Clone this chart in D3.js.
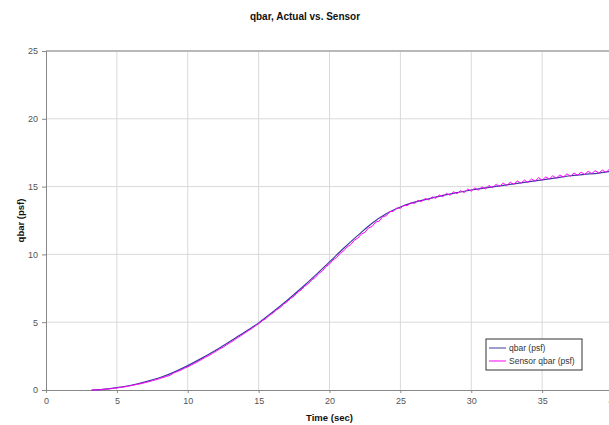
<!DOCTYPE html>
<html>
<head>
<meta charset="utf-8">
<script src="https://cdn.jsdelivr.net/npm/d3@7"></script>
<style>
  body { margin: 0; background: #fff; }
  text { font-family: "Liberation Sans", Arial, sans-serif; }
  .tick text { font-size: 9px; fill: #555; }
  .label { font-size: 9.5px; font-weight: bold; fill: #111; }
</style>
</head>
<body>
<div id="chart"></div>
<script>
// actual qbar, 1 s samples
var actualTime = [3.2, 4, 5, 6, 7, 8, 9, 10, 11, 12, 13, 14, 15, 16, 17, 18, 19, 20,
  21, 22, 23, 24, 25, 26, 27, 28, 29, 30, 31, 32, 33, 34, 35, 36, 37, 38, 39, 40];
var actualQbar = [0, 0.05, 0.17, 0.35, 0.6, 0.9, 1.3, 1.8, 2.35, 2.95, 3.6, 4.25, 4.95, 5.75,
  6.6, 7.5, 8.45, 9.45, 10.45, 11.4, 12.3, 13.0, 13.5, 13.85, 14.1, 14.35, 14.55, 14.75,
  14.9, 15.05, 15.2, 15.35, 15.5, 15.65, 15.8, 15.9, 16.0, 16.15];

// sensor qbar, 0.25 s samples starting at 3.25 s
var sensorStart = 3.25, sensorStep = 0.25;
var sensorQbar = [0, 0.0, 0.02, 0.04, 0.06, 0.09, 0.12, 0.15, 0.19, 0.22, 0.27, 0.32, 0.37, 0.43,
  0.48, 0.55, 0.61, 0.69, 0.75, 0.84, 0.92, 1.0, 1.08,
  1.25, 1.36, 1.45, 1.6, 1.7, 1.85, 1.97, 2.12, 2.26, 2.42, 2.54, 2.7, 2.86, 3.02, 3.16, 3.34,
  3.5, 3.66, 3.85, 4.0, 4.18, 4.36, 4.52, 4.72, 4.88, 5.1, 5.26, 5.5, 5.66, 5.9, 6.06, 6.32,
  6.5, 6.75, 6.92, 7.2, 7.38, 7.66, 7.84, 8.12, 8.3, 8.6, 8.78, 9.1, 9.28, 9.6, 9.76, 10.08,
  10.26, 10.56, 10.72, 11.05, 11.2, 11.5, 11.62, 11.95, 12.05, 12.38, 12.45, 12.78, 12.85, 13.15,
  13.18, 13.42, 13.4, 13.62, 13.6, 13.82, 13.76, 13.98, 13.9, 14.12, 14.02, 14.25, 14.14, 14.38,
  14.26, 14.5, 14.36, 14.62, 14.48, 14.7, 14.56, 14.82, 14.66, 14.9, 14.74, 14.98, 14.82, 15.08,
  14.92, 15.16, 15.0, 15.26, 15.08, 15.32, 15.16, 15.42, 15.24, 15.48, 15.3, 15.56, 15.4, 15.66,
  15.46, 15.72, 15.56, 15.8, 15.62, 15.86, 15.7, 15.94, 15.76, 16.0, 15.84, 16.06, 15.9, 16.12,
  15.96, 16.18, 16.0, 16.22, 16.06, 16.28, 16.12];

var xTicks = [0, 5, 10, 15, 20, 25, 30, 35, 40];
var yTicks = [0, 5, 10, 15, 20, 25];
var seriesNames = ["qbar (psf)", "Sensor qbar (psf)"];
var seriesColors = ["#3c3ca0", "#ff00ff"];

var margin = { top: 51, right: 0, bottom: 35, left: 46 };
var width = 567, height = 339;

var svg = d3.select("#chart").append("svg")
  .attr("width", 609)
  .attr("height", 425);

var g = svg.append("g")
  .attr("transform", "translate(" + margin.left + "," + margin.top + ")");

var x = d3.scaleLinear().domain([0, 40]).range([0, width]);
var y = d3.scaleLinear().domain([0, 25]).range([height, 0]);

// gridlines
g.selectAll(".vgrid").data(xTicks.slice(1)).enter().append("line")
  .attr("x1", function(d){ return x(d); })
  .attr("x2", function(d){ return x(d); })
  .attr("y1", 0).attr("y2", height)
  .attr("stroke", "#d9d9d9");

g.selectAll(".hgrid").data(yTicks.slice(1)).enter().append("line")
  .attr("x1", 0).attr("x2", width)
  .attr("y1", function(d){ return y(d); })
  .attr("y2", function(d){ return y(d); })
  .attr("stroke", function(d){ return d === 25 ? "#b8b8b8" : "#d9d9d9"; })
  .attr("stroke-width", function(d){ return d === 25 ? 2 : 1; });

// axes
var xAxis = g.append("g")
  .attr("transform", "translate(0," + height + ")")
  .call(d3.axisBottom(x).tickValues(xTicks).tickSize(3).tickPadding(5));
var yAxis = g.append("g")
  .call(d3.axisLeft(y).tickValues(yTicks).tickSize(4).tickPadding(4));
[xAxis, yAxis].forEach(function(a){
  a.select(".domain").attr("stroke", "#888");
  a.selectAll(".tick line").attr("stroke", "#888");
});

// lines
var actualData = actualTime.map(function(t, i){ return [t, actualQbar[i]]; });
var sensorData = sensorQbar.map(function(q, i){ return [sensorStart + i * sensorStep, q]; });

var line = d3.line()
  .x(function(d){ return x(d[0]); })
  .y(function(d){ return y(d[1]); })
  .curve(d3.curveMonotoneX);

g.append("path").datum(actualData)
  .attr("d", line)
  .attr("fill", "none")
  .attr("stroke", seriesColors[0])
  .attr("stroke-width", 1.2);

g.append("path").datum(sensorData)
  .attr("d", d3.line().x(function(d){ return x(d[0]); }).y(function(d){ return y(d[1]); }))
  .attr("fill", "none")
  .attr("stroke", seriesColors[1])
  .attr("stroke-width", 1);

// Labels
svg.append("text")
  .attr("class", "label")
  .attr("text-anchor", "middle")
  .attr("x", 305).attr("y", 20)
  .style("font-size", "10px")
  .text("qbar, Actual vs. Sensor");

svg.append("text")
  .attr("class", "label")
  .attr("text-anchor", "middle")
  .attr("x", margin.left + width / 2).attr("y", 421)
  .text("Time (sec)");

svg.append("text")
  .attr("class", "label")
  .attr("text-anchor", "middle")
  .attr("transform", "translate(24," + (margin.top + height / 2) + ")rotate(-90)")
  .text("qbar (psf)");

// legend
var legend = svg.append("g").attr("transform", "translate(486,339)");
legend.append("rect")
  .attr("width", 96).attr("height", 31)
  .attr("fill", "#fff")
  .attr("stroke", "#333");
seriesNames.forEach(function(name, i){
  var row = legend.append("g").attr("transform", "translate(0," + (9 + i * 13) + ")");
  row.append("line")
    .attr("x1", 3).attr("x2", 20)
    .attr("stroke", seriesColors[i]);
  row.append("text")
    .attr("x", 23).attr("y", 3)
    .style("font-size", "8.5px")
    .attr("fill", "#333")
    .text(name);
});
</script>
</body>
</html>
